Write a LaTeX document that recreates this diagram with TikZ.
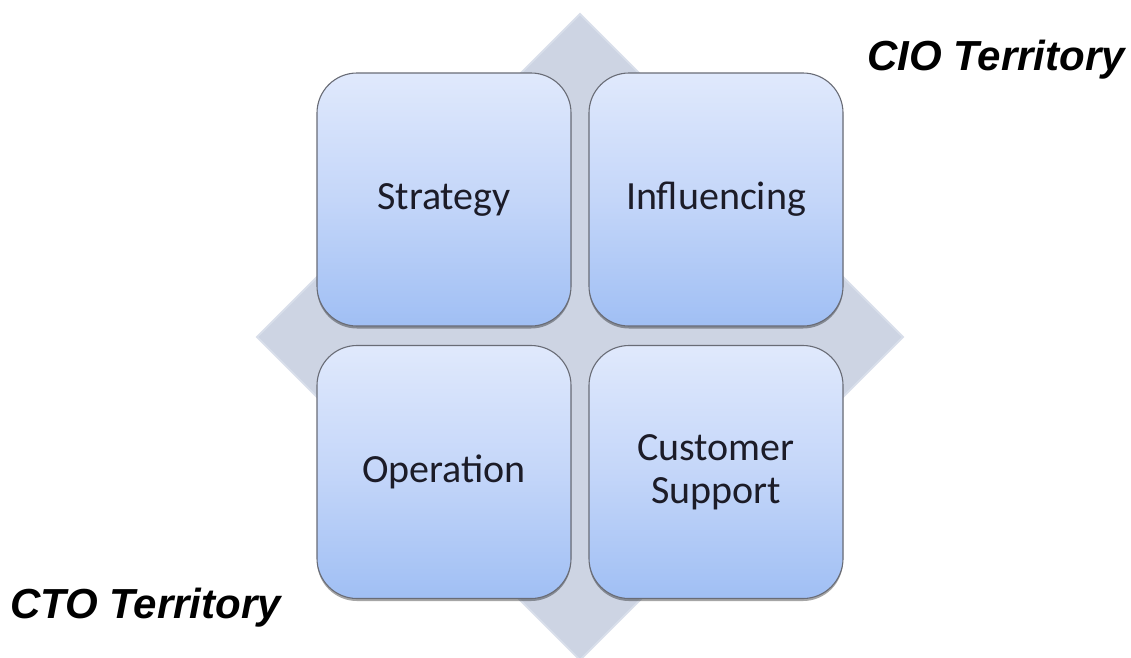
\documentclass[tikz,border=0pt]{standalone}
\usepackage{fontspec}
\setmainfont{Carlito}
\newfontfamily\labelfont{Liberation Sans}
\usetikzlibrary{shadows}
\definecolor{diamondfill}{RGB}{205,212,227}
\definecolor{diamondedge}{RGB}{216,222,234}
\definecolor{boxtop}{RGB}{224,233,252}
\definecolor{boxmid}{RGB}{196,214,249}
\definecolor{boxbottom}{RGB}{160,191,244}
\definecolor{boxborder}{RGB}{105,108,118}
\definecolor{boxtext}{RGB}{28,28,40}
\tikzset{
  quadrant/.style={
    draw=boxborder, line width=1.1pt,
    rounded corners=40pt,
    top color=boxtop, bottom color=boxbottom, middle color=boxmid,
    minimum width=254pt, minimum height=253pt,
    inner sep=0pt, align=center,
    text=boxtext,
    font=\fontsize{40}{43}\selectfont,
    drop shadow={shadow xshift=0pt, shadow yshift=-2.5pt, opacity=0.35, fill=black}
  },
  territory/.style={
    inner sep=0pt, text=black,
    font=\labelfont\bfseries\itshape\fontsize{42}{50}\selectfont
  },
  backdrop/.style={fill=diamondfill, draw=diamondedge, line width=2pt, line join=miter}
}
\begin{document}
\begin{tikzpicture}[x=1pt, y=-1pt]
  \useasboundingbox (0,0) rectangle (1131,657);
  % grey diamond behind the four quadrants
  \path[backdrop] (580,14) -- (903,337) -- (580,660) -- (257,337) -- cycle;
  % quadrant boxes
  \node[quadrant] (strategy)    at (444,199.5) {Strategy};
  \node[quadrant] (influencing) at (716,199.5) {Influencing};
  \node[quadrant] (operation)   at (444,472)   {Operation};
  \node[quadrant] (support)     at (716,472)   {Customer\\Support};
  % territory labels
  \node[territory, anchor=base east] (cio) at (1125,70)  {CIO Territory};
  \node[territory, anchor=base west] (cto) at (10,618)   {CTO Territory};
\end{tikzpicture}
\end{document}
